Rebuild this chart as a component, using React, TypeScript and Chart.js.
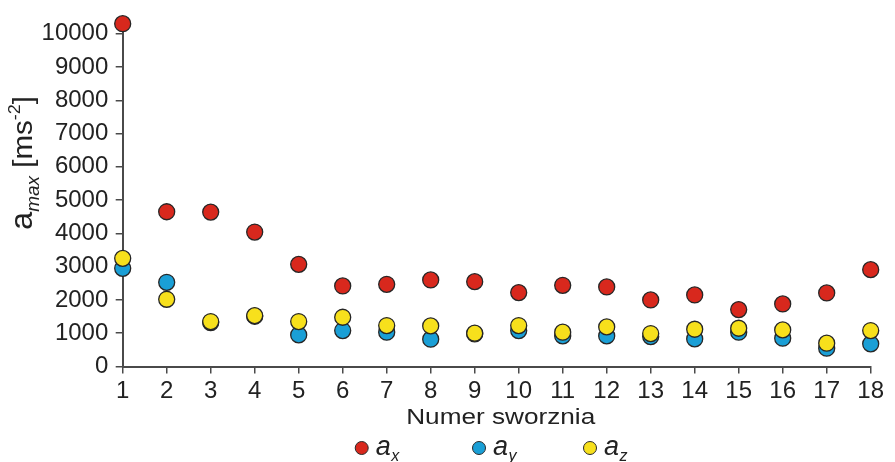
import { useEffect, useRef } from 'react';
import { Chart, registerables } from 'chart.js';

Chart.register(...registerables);

// ---- data ----
const pins = [1, 2, 3, 4, 5, 6, 7, 8, 9, 10, 11, 12, 13, 14, 15, 16, 17, 18];
const axValues = [10300, 4650, 4640, 4040, 3070, 2420, 2470, 2600, 2550, 2220, 2440, 2390, 2000, 2150, 1710, 1880, 2210, 2910];
const ayValues = [2950, 2530, 1320, 1510, 950, 1080, 1030, 820, 980, 1080, 920, 920, 900, 830, 1030, 850, 550, 680];
const azValues = [3250, 2020, 1350, 1530, 1350, 1480, 1230, 1220, 1000, 1230, 1030, 1190, 990, 1120, 1150, 1100, 700, 1080];
const yMin = 0;
const yTickMax = 10000; // last labelled tick
const yAxisTop = 10200; // axis line runs slightly past the last tick
const yStep = 1000;
const seriesNames = ['a_x', 'a_y', 'a_z'];
const seriesSubs = ['x', 'y', 'z'];
const seriesColors = ['#d8281d', '#1a9fd6', '#f7e01c'];
const xTitle = 'Numer sworznia';

const FONT = '"Liberation Sans", Arial, Helvetica, sans-serif';
const TEXT = '#222222';
const AXIS = '#4a4a4a';

const annotations = {
  id: 'customText',
  afterDraw(chart: any) {
    const ctx = chart.ctx as CanvasRenderingContext2D;
    const area = chart.chartArea;
    ctx.save();
    ctx.fillStyle = TEXT;
    ctx.textBaseline = 'alphabetic';
    ctx.textAlign = 'left';

    // ---- Y title: a_max [ms^-2] ----
    const parts = [
      { t: 'a', f: `31px ${FONT}`, dy: 0 },
      { t: 'max', f: `italic 18px ${FONT}`, dy: 7 },
      { t: ' [ms', f: `28px ${FONT}`, dy: 0 },
      { t: '-2', f: `17px ${FONT}`, dy: -12 },
      { t: ']', f: `28px ${FONT}`, dy: 0 },
    ];
    let total = 0;
    const widths: number[] = [];
    for (const p of parts) {
      ctx.font = p.f;
      const w = ctx.measureText(p.t).width;
      widths.push(w);
      total += w;
    }
    const targetLen = 134;
    const sx = targetLen / total;
    ctx.save();
    ctx.translate(32, 230);
    ctx.rotate(-Math.PI / 2);
    ctx.scale(sx, 1);
    let cx = 0;
    parts.forEach((p, i) => {
      ctx.font = p.f;
      ctx.fillText(p.t, cx, p.dy);
      cx += widths[i];
    });
    ctx.restore();

    // ---- X title ----
    ctx.save();
    ctx.font = `22px ${FONT}`;
    const tw = ctx.measureText(xTitle).width;
    const tsx = 189 / tw;
    const centerX = (area.left + area.right) / 2 + 4;
    ctx.translate(centerX, 424);
    ctx.scale(tsx, 1);
    ctx.textAlign = 'center';
    ctx.fillText(xTitle, 0, 0);
    ctx.restore();

    // ---- Legend ----
    const legendY = 448;
    const mid = (area.left + area.right) / 2;
    const offsets = [-135, -17.7, 93.3];
    seriesNames.forEach((_, i) => {
      const dx = mid + offsets[i];
      ctx.beginPath();
      ctx.arc(dx, legendY, 6.5, 0, Math.PI * 2);
      ctx.fillStyle = seriesColors[i];
      ctx.fill();
      ctx.lineWidth = 1;
      ctx.strokeStyle = '#2a2a2a';
      ctx.stroke();
      ctx.fillStyle = TEXT;
      ctx.font = `italic 27px ${FONT}`;
      ctx.fillText('a', dx + 14, 455);
      const aw = ctx.measureText('a').width;
      ctx.font = `italic 16px ${FONT}`;
      ctx.fillText(seriesSubs[i], dx + 14 + aw + 0.5, 461);
    });

    ctx.restore();
  },
};

export default function App() {
  const canvasRef = useRef<HTMLCanvasElement | null>(null);

  useEffect(() => {
    if (!canvasRef.current) return;
    const mk = (vals: number[]) => pins.map((p, i) => ({ x: p, y: vals[i] }));
    const ds = (label: string, vals: number[], color: string, order: number) => ({
      label,
      data: mk(vals),
      backgroundColor: color,
      borderColor: '#262626',
      pointBorderColor: '#262626',
      pointBackgroundColor: color,
      pointRadius: 8,
      pointBorderWidth: 1.3,
      showLine: false,
      clip: false as any,
      order,
    });
    // chart area: 0 at y=366.5, 10000 at y=33.7
    const pxPerUnit = (366.5 - 33.7) / yTickMax;
    const topPad = 366.5 - yAxisTop * pxPerUnit;
    const chart = new Chart(canvasRef.current, {
      type: 'scatter',
      data: {
        datasets: [
          ds(seriesNames[0], axValues, seriesColors[0], 2),
          ds(seriesNames[1], ayValues, seriesColors[1], 1),
          ds(seriesNames[2], azValues, seriesColors[2], 0),
        ],
      },
      options: {
        animation: false,
        responsive: true,
        maintainAspectRatio: false,
        events: [],
        layout: { padding: { left: 0, right: 24.3, top: topPad, bottom: 0 } },
        plugins: {
          legend: { display: false },
          tooltip: { enabled: false },
          title: { display: false },
        },
        scales: {
          x: {
            type: 'linear',
            min: pins[0],
            max: pins[pins.length - 1],
            afterFit: (scale: any) => {
              scale.height = 95.5;
            },
            ticks: {
              stepSize: 1,
              color: TEXT,
              padding: 3,
              font: { family: FONT, size: 24 },
              maxRotation: 0,
              autoSkip: false,
            },
            grid: {
              drawOnChartArea: false,
              drawTicks: true,
              tickLength: 7,
              color: AXIS,
              lineWidth: 1.5,
            },
            border: { display: true, color: AXIS, width: 2 },
          },
          y: {
            type: 'linear',
            min: yMin,
            max: yAxisTop,
            afterFit: (scale: any) => {
              scale.width = 122.7;
            },
            afterBuildTicks: (scale: any) => {
              const t: { value: number }[] = [];
              for (let v = yMin; v <= yTickMax; v += yStep) t.push({ value: v });
              scale.ticks = t;
            },
            ticks: {
              stepSize: yStep,
              color: TEXT,
              padding: 7.4,
              font: { family: FONT, size: 24 },
              autoSkip: false,
              callback: (v: any) => String(v),
            },
            grid: {
              drawOnChartArea: false,
              drawTicks: true,
              tickLength: 7,
              color: AXIS,
              lineWidth: 1.5,
            },
            border: { display: true, color: AXIS, width: 2 },
          },
        },
      },
      plugins: [annotations],
    });
    return () => chart.destroy();
  }, []);

  return (
    <div style={{ position: 'fixed', left: 0, top: 0, width: 895, height: 462, background: '#fff' }}>
      <canvas ref={canvasRef} />
    </div>
  );
}
